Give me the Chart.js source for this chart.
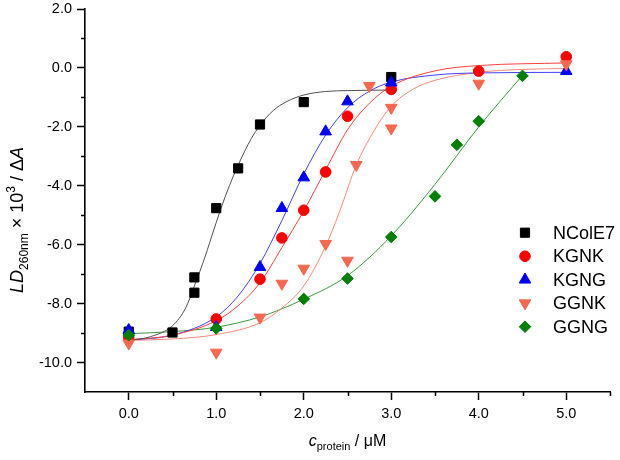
<!DOCTYPE html>
<html>
<head>
<meta charset="utf-8">
<script src="https://cdn.jsdelivr.net/npm/chart.js@4.4.1/dist/chart.umd.min.js"></script>
<style>
  html, body { margin: 0; padding: 0; background: #fff; }
  #wrap { width: 620px; height: 460px; }
</style>
</head>
<body>
<div id="wrap"><canvas id="ldChart" width="620" height="460"></canvas></div>
<script>
// --- measured points ---
const nColE7X = [0, 0.5, 0.75, 0.75, 1.0, 1.25, 1.5, 2.0, 3.0];
const nColE7Y = [-8.95, -8.98, -7.63, -7.11, -4.76, -3.41, -1.92, -1.16, -0.31];
const kgnkX = [0, 1.0, 1.5, 1.75, 2.0, 2.25, 2.5, 3.0, 4.0, 5.0];
const kgnkY = [-9.15, -8.52, -7.17, -5.77, -4.83, -3.53, -1.64, -0.73, -0.11, 0.38];
const kgngX = [0, 1.0, 1.5, 1.75, 2.0, 2.25, 2.5, 3.0, 5.0];
const kgngY = [-8.9, -8.8, -6.76, -4.76, -3.72, -2.16, -1.14, -0.5, -0.11];
const ggnkX = [0, 1.0, 1.5, 1.75, 2.0, 2.25, 2.5, 2.6, 2.75, 3.0, 3.0, 4.0, 5.0];
const ggnkY = [-9.35, -9.66, -8.47, -7.32, -6.81, -5.97, -6.54, -3.29, -0.61, -1.35, -2.05, -0.53, 0.13];
const ggngX = [0, 1.0, 2.0, 2.5, 3.0, 3.5, 3.75, 4.0, 4.5];
const ggngY = [-9.07, -8.84, -7.84, -7.15, -5.74, -4.36, -2.61, -1.81, -0.27];

// --- fitted curves ---
const nColE7FitX = [0, 0.25, 0.5, 0.65, 0.75, 0.85, 0.95, 1.05, 1.15, 1.25, 1.4, 1.5, 1.65, 1.8, 2.0, 2.25, 2.5, 3.0];
const nColE7FitY = [-9.25, -9.12, -8.75, -8.15, -7.4, -6.6, -5.7, -4.8, -4.0, -3.3, -2.4, -1.95, -1.45, -1.15, -0.92, -0.8, -0.77, -0.75];
const kgnkFitX = [0, 0.5, 1.0, 1.25, 1.5, 1.75, 2.0, 2.25, 2.5, 2.75, 3.0, 3.5, 4.0, 5.0];
const kgnkFitY = [-9.23, -9.07, -8.58, -8.07, -7.29, -6.1, -4.85, -3.46, -2.1, -1.2, -0.62, -0.1, 0.08, 0.17];
const kgngFitX = [0, 0.5, 1.0, 1.25, 1.5, 1.75, 2.0, 2.25, 2.5, 2.75, 3.0, 3.5, 4.0, 5.0];
const kgngFitY = [-9.24, -9.07, -8.45, -7.74, -6.64, -5.18, -3.6, -2.28, -1.35, -0.79, -0.48, -0.24, -0.17, -0.15];
const ggnkFitX = [0, 0.5, 1.0, 1.5, 1.75, 2.0, 2.25, 2.4, 2.6, 2.8, 3.0, 3.25, 3.5, 4.0, 4.5, 5.0];
const ggnkFitY = [-9.25, -9.2, -9.05, -8.65, -8.15, -7.4, -6.05, -4.95, -3.3, -2.15, -1.3, -0.72, -0.42, -0.15, -0.05, -0.02];
const ggngFitX = [0, 0.5, 1.0, 1.5, 2.0, 2.5, 3.0, 3.5, 4.0, 4.5];
const ggngFitY = [-9.02, -8.95, -8.8, -8.45, -7.85, -7.05, -5.7, -3.95, -2.0, -0.25];

// --- axes ---
const xTickValues = [0, 1, 2, 3, 4, 5];
const xMinorTicks = [0.5, 1.5, 2.5, 3.5, 4.5, 5.5];
const yTickValues = [-10, -8, -6, -4, -2, 0, 2];
const yMinorTicks = [-9, -7, -5, -3, -1, 1];

const seriesNames = ['NColE7', 'KGNK', 'KGNG', 'GGNK', 'GGNG'];
const markerColors = ['#000000', '#ff0000', '#0000ff', '#f8674f', '#008000'];
const curveColors = ['#505050', '#ff4040', '#4040ff', '#f98a78', '#3c9a3c'];
const markerStyles = ['rect', 'circle', 'triangle', 'triangle', 'rectRot'];
const markerRotations = [0, 0, 0, 180, 0];
const markerRadii = [6.5, 5.3, 6.7, 6.7, 5.8];

const pointSets = [[nColE7X, nColE7Y], [kgnkX, kgnkY], [kgngX, kgngY], [ggnkX, ggnkY], [ggngX, ggngY]];
const fitSets = [[nColE7FitX, nColE7FitY], [kgnkFitX, kgnkFitY], [kgngFitX, kgngFitY], [ggnkFitX, ggnkFitY], [ggngFitX, ggngFitY]];

const pts = (xs, ys) => xs.map((x, i) => ({ x: x, y: ys[i] }));

const datasets = [];
pointSets.forEach((s, i) => {
    datasets.push({
        label: seriesNames[i],
        data: pts(s[0], s[1]),
        showLine: false,
        pointStyle: markerStyles[i],
        rotation: markerRotations[i],
        radius: markerRadii[i],
        pointBackgroundColor: markerColors[i],
        pointBorderColor: markerColors[i],
        pointBorderWidth: 1,
        order: 4 - i
    });
});
fitSets.forEach((s, i) => {
    datasets.push({
        label: seriesNames[i] + ' fit',
        data: pts(s[0], s[1]),
        showLine: true,
        pointRadius: 0,
        borderColor: curveColors[i],
        borderWidth: 1,
        cubicInterpolationMode: 'monotone',
        order: 10
    });
});

const FONT = 'Arial, "Liberation Sans", sans-serif';

function drawRich(ctx, segs, x, y) {
    let total = 0;
    segs.forEach(s => { ctx.font = s.font; s.w = ctx.measureText(s.text).width; total += s.w; });
    let cx = x - total / 2;
    segs.forEach(s => { ctx.font = s.font; ctx.fillText(s.text, cx, y + s.dy); cx += s.w; });
}

const extras = {
    id: 'extras',
    afterDraw(chart) {
        const ctx = chart.ctx;
        const xs = chart.scales.x, ys = chart.scales.y;
        const area = chart.chartArea;
        ctx.save();

        // minor ticks
        ctx.strokeStyle = '#000';
        ctx.lineWidth = 1.5;
        ctx.beginPath();
        xMinorTicks.forEach(v => {
            const px = Math.round(xs.getPixelForValue(v)) + 0.5;
            ctx.moveTo(px, area.bottom);
            ctx.lineTo(px, area.bottom + 4);
        });
        yMinorTicks.forEach(v => {
            const py = Math.round(ys.getPixelForValue(v)) + 0.5;
            ctx.moveTo(area.left - 4, py);
            ctx.lineTo(area.left, py);
        });
        ctx.stroke();

        // axis titles
        ctx.fillStyle = '#000';
        ctx.textAlign = 'left';
        ctx.textBaseline = 'alphabetic';
        drawRich(ctx, [
            { text: 'c', font: 'italic 16px ' + FONT, dy: 0 },
            { text: 'protein', font: '11px ' + FONT, dy: 4 },
            { text: ' / \u03bcM', font: '16px ' + FONT, dy: 0 }
        ], (area.left + area.right) / 2, 446);

        ctx.save();
        ctx.translate(22.5, 220);
        ctx.rotate(-Math.PI / 2);
        drawRich(ctx, [
            { text: 'LD', font: 'italic 18px ' + FONT, dy: 0 },
            { text: '260nm', font: '12px ' + FONT, dy: 5 },
            { text: ' \u00d7 10', font: '18px ' + FONT, dy: 0 },
            { text: '3', font: '12px ' + FONT, dy: -8 },
            { text: ' / \u0394', font: '18px ' + FONT, dy: 0 },
            { text: 'A', font: 'italic 18px ' + FONT, dy: 0 }
        ], 0, 0);
        ctx.restore();

        // legend
        const legendX = 525, legendY = 232.7, rowGap = 23.5;
        ctx.font = '18px ' + FONT;
        ctx.textBaseline = 'middle';
        seriesNames.forEach((name, i) => {
            const y = legendY + i * rowGap;
            ctx.fillStyle = markerColors[i];
            ctx.strokeStyle = markerColors[i];
            ctx.lineWidth = 1;
            Chart.helpers.drawPoint(ctx, {
                pointStyle: markerStyles[i],
                radius: markerRadii[i],
                rotation: markerRotations[i],
                borderWidth: 1
            }, legendX, y);
            ctx.fillStyle = '#000';
            ctx.fillText(name, 553, y + 1);
        });
        ctx.restore();
    }
};

new Chart(document.getElementById('ldChart'), {
    type: 'scatter',
    data: { datasets: datasets },
    options: {
        responsive: false,
        animation: false,
        devicePixelRatio: 1,
        layout: { padding: { top: 9, right: 10, left: 0, bottom: 0 } },
        plugins: { legend: { display: false }, tooltip: { enabled: false } },
        scales: {
            x: {
                type: 'linear', min: -0.5, max: 5.5,
                afterBuildTicks: s => { s.ticks = xTickValues.map(v => ({ value: v })); },
                afterFit: s => { s.height = 68; s.paddingLeft = 0; s.paddingRight = 0; },
                border: { display: true, color: '#000', width: 1.6 },
                grid: { drawOnChartArea: false, drawTicks: true, tickLength: 8, tickColor: '#000', tickWidth: 1.5 },
                ticks: { color: '#000', padding: 5, font: { family: FONT, size: 14.5 }, callback: v => v.toFixed(1) }
            },
            y: {
                type: 'linear', min: -11, max: 2,
                afterBuildTicks: s => { s.ticks = yTickValues.map(v => ({ value: v })); },
                afterFit: s => { s.width = 85; s.paddingTop = 0; s.paddingBottom = 0; },
                border: { display: true, color: '#000', width: 1.6 },
                grid: { drawOnChartArea: false, drawTicks: true, tickLength: 8, tickColor: '#000', tickWidth: 1.5 },
                ticks: { color: '#000', padding: 5, font: { family: FONT, size: 14.5 }, callback: v => v.toFixed(1) }
            }
        }
    },
    plugins: [extras]
});
</script>
</body>
</html>
